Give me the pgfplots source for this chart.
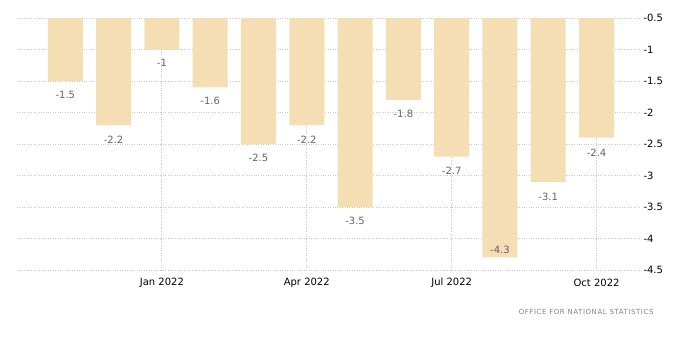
\documentclass[border=0pt]{standalone}
\usepackage{fontspec}
\setmainfont{DejaVu Sans}
\usepackage{pgfplots}
\usepackage{pgfplotstable}
\pgfplotsset{compat=1.18}
\definecolor{barfill}{RGB}{245,222,179}
\definecolor{gridc}{RGB}{200,200,200}
\definecolor{lblc}{RGB}{100,100,100}
\definecolor{srcc}{RGB}{130,130,130}
\pgfplotstableread{
x y off lbl
0 -1.5 -14 -1.5
1 -2.2 -15 -2.2
2 -1.0 -13 -1
3 -1.6 -14 -1.6
4 -2.5 -14 -2.5
5 -2.2 -15 -2.2
6 -3.5 -14 -3.5
7 -1.8 -14 -1.8
8 -2.7 -14 -2.7
9 -4.3 8 -4.3
10 -3.1 -15 -3.1
11 -2.4 -15 -2.4
}\data
\begin{document}
\begin{tikzpicture}
\begin{axis}[
  name=ax,
  scale only axis,
  width=623bp, height=252bp,
  xmin=-1, xmax=11.9,
  ymin=-4.5, ymax=-0.5,
  axis line style={draw=none},
  ytick={-4.5,-4,...,-0.5},
  xtick={2,5,8,11},
  xticklabels={Jan 2022,Apr 2022,Jul 2022,Oct 2022},
  major tick length=0pt,
  tick style={draw=none},
  ymajorgrids, xmajorgrids,
  grid style={gridc, dotted, line width=0.8pt},
  yticklabel pos=right,
  yticklabel style={/pgf/number format/assume math mode=true, font=\fontsize{10bp}{12bp}\selectfont, anchor=west, xshift=0bp},
  xticklabel style={font=\fontsize{10bp}{12bp}\selectfont, anchor=center, yshift=-13bp},
  xticklabel shift=0pt,
  yticklabel shift=0pt,
  y tick label style={/pgf/number format/.cd, fixed, use period},
]
\addplot[ybar, bar width=35bp, fill=barfill, draw=none,
  point meta=explicit symbolic,
  visualization depends on={\thisrow{off} \as \off},
  nodes near coords,
  every node near coord/.append style={anchor=center, yshift=\off bp, text=lblc, font=\fontsize{10bp}{12bp}\selectfont, inner sep=0pt}]
  table[x=x, y=y, meta=lbl]{\data};
\end{axis}
\node[anchor=east, text=srcc, font=\fontsize{7bp}{8bp}\selectfont\addfontfeature{LetterSpace=8}] at ([xshift=17bp, yshift=-42bp]ax.south east) {OFFICE FOR NATIONAL STATISTICS};
\pgfresetboundingbox
\path[use as bounding box] ([xshift=-17bp, yshift=-89bp]ax.south west) rectangle ([xshift=60bp, yshift=18bp]ax.north east);
\end{tikzpicture}
\end{document}
